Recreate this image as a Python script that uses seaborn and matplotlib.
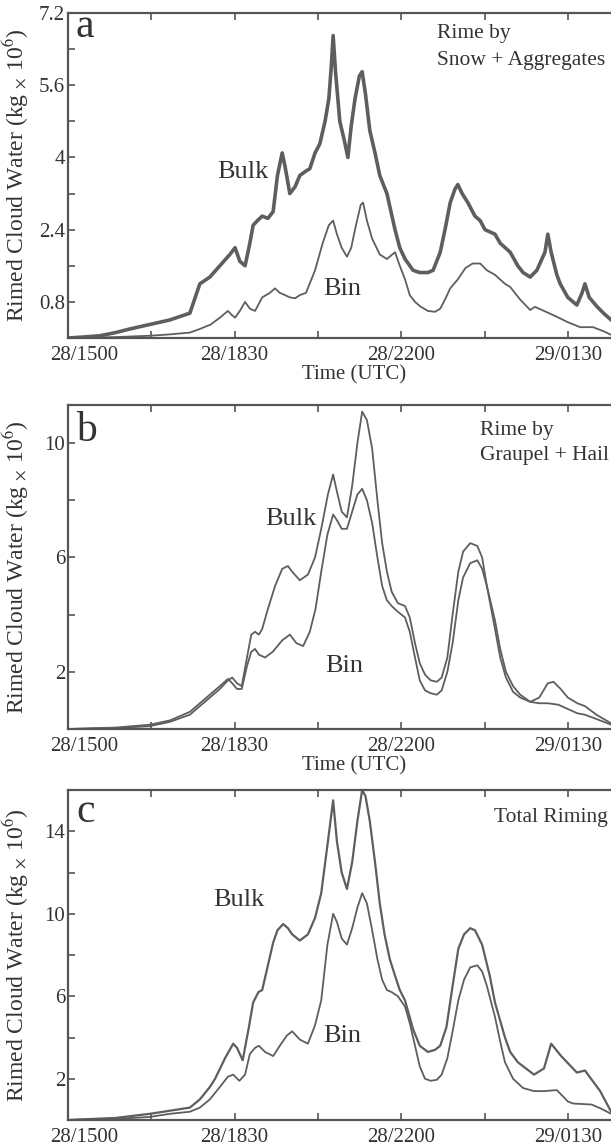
import matplotlib
matplotlib.use("Agg")
import matplotlib.pyplot as plt
import matplotlib.transforms as mtransforms
from matplotlib.ticker import FixedLocator, NullFormatter
import seaborn as sns
import pandas as pd

# ---------------- data (x = hours after 28/1500 UTC) ----------------
a_bulk_t = [0, 0.3, 0.67, 1.0, 1.3, 1.72, 2.14, 2.56, 2.77, 2.98, 3.19, 3.40, 3.51, 3.61, 3.72, 3.82, 3.89, 3.98,
            4.08, 4.20, 4.31, 4.40, 4.50, 4.56, 4.66, 4.77, 4.87, 5.0, 5.08, 5.19, 5.29, 5.40, 5.48, 5.53, 5.57,
            5.62, 5.71, 5.80, 5.88, 5.95, 6.03, 6.12, 6.18, 6.25, 6.34, 6.45, 6.55, 6.70, 6.87, 6.97, 7.08, 7.25,
            7.39, 7.56, 7.67, 7.82, 7.92, 8.03, 8.13, 8.19, 8.28, 8.40, 8.55, 8.66, 8.76, 8.97, 9.08, 9.29, 9.45,
            9.56, 9.71, 9.85, 10.02, 10.08, 10.15, 10.27, 10.34, 10.50, 10.69, 10.80, 10.86, 10.95, 11.11, 11.25,
            11.41, 11.5]
a_bulk_v = [0.0, 0.02, 0.05, 0.12, 0.2, 0.3, 0.4, 0.55, 1.2, 1.35, 1.6, 1.85, 2.0, 1.7, 1.6, 2.1, 2.5, 2.6,
            2.7, 2.65, 2.8, 3.6, 4.1, 3.8, 3.2, 3.35, 3.6, 3.7, 3.75, 4.1, 4.3, 4.8, 5.3, 6.0, 6.7,
            5.9, 4.8, 4.4, 4.0, 4.7, 5.3, 5.8, 5.9, 5.4, 4.6, 4.1, 3.6, 3.2, 2.4, 2.0, 1.75, 1.5,
            1.45, 1.45, 1.5, 1.9, 2.4, 3.0, 3.3, 3.4, 3.2, 3.0, 2.7, 2.6, 2.4, 2.3, 2.1, 1.9, 1.6,
            1.45, 1.35, 1.5, 1.9, 2.3, 1.9, 1.4, 1.2, 0.9, 0.73, 1.0, 1.2, 0.9, 0.7, 0.55,
            0.4, 0.35]

a_bin_t = [0, 1.0, 1.72, 2.14, 2.56, 2.77, 3.0, 3.19, 3.36, 3.45, 3.51, 3.61, 3.72, 3.82, 3.93, 4.08, 4.24, 4.35,
           4.45, 4.56, 4.66, 4.77, 4.87, 5.0, 5.19, 5.35, 5.48, 5.57, 5.65, 5.75, 5.86, 5.95, 6.05, 6.15, 6.20,
           6.28, 6.39, 6.55, 6.70, 6.87, 6.97, 7.08, 7.18, 7.29, 7.40, 7.56, 7.71, 7.82, 7.92, 8.03, 8.19, 8.35,
           8.50, 8.66, 8.80, 8.97, 9.18, 9.29, 9.50, 9.71, 9.81, 10.0, 10.27, 10.50, 10.76, 11.03, 11.25, 11.41, 11.5]
a_bin_v = [0, 0.02, 0.05, 0.08, 0.12, 0.2, 0.3, 0.45, 0.6, 0.5, 0.45, 0.6, 0.8, 0.65, 0.6, 0.9, 1.0, 1.1,
           1.0, 0.95, 0.9, 0.88, 0.95, 1.0, 1.5, 2.1, 2.5, 2.6, 2.3, 2.0, 1.8, 2.0, 2.5, 2.95, 3.0,
           2.6, 2.2, 1.85, 1.75, 1.9, 1.6, 1.3, 0.95, 0.8, 0.7, 0.6, 0.58, 0.65, 0.85, 1.1, 1.3, 1.55,
           1.65, 1.65, 1.5, 1.4, 1.2, 1.13, 0.85, 0.62, 0.69, 0.6, 0.47, 0.35, 0.24, 0.24, 0.15, 0.07, 0.05]

b_bulk_t = [0, 1.0, 1.72, 2.14, 2.56, 2.77, 2.98, 3.19, 3.36, 3.45, 3.55, 3.65, 3.76, 3.85, 3.93, 4.01, 4.08,
            4.20, 4.35, 4.50, 4.62, 4.71, 4.87, 5.04, 5.19, 5.32, 5.46, 5.57, 5.65, 5.75, 5.86, 5.97, 6.08, 6.18,
            6.28, 6.39, 6.50, 6.60, 6.70, 6.80, 6.93, 7.08, 7.18, 7.29, 7.39, 7.50, 7.62, 7.75, 7.85, 7.97, 8.08,
            8.20, 8.30, 8.45, 8.60, 8.70, 8.80, 8.97, 9.08, 9.20, 9.35, 9.50, 9.71, 9.90, 10.08, 10.20, 10.35,
            10.50, 10.70, 10.86, 11.10, 11.41, 11.5]
b_bulk_v = [0, 0.03, 0.1, 0.25, 0.5, 0.8, 1.1, 1.4, 1.7, 1.8, 1.6, 1.5, 2.5, 3.3, 3.4, 3.3, 3.5,
            4.2, 5.0, 5.6, 5.7, 5.5, 5.2, 5.4, 6.0, 7.0, 8.2, 8.9, 8.3, 7.6, 7.4, 8.5, 10.0, 11.1,
            10.8, 9.8, 8.0, 6.5, 5.5, 4.8, 4.4, 4.3, 3.9, 3.0, 2.3, 1.9, 1.7, 1.65, 1.8, 2.5, 4.0,
            5.5, 6.2, 6.5, 6.4, 6.0, 5.0, 3.5, 2.5, 1.8, 1.3, 1.1, 0.95, 1.1, 1.6, 1.65, 1.4,
            1.1, 0.9, 0.8, 0.5, 0.2, 0.15]

b_bin_t = [0, 1.0, 1.72, 2.14, 2.56, 2.77, 2.98, 3.19, 3.36, 3.45, 3.55, 3.65, 3.76, 3.85, 3.93, 4.01, 4.14,
           4.30, 4.50, 4.66, 4.80, 4.94, 5.08, 5.20, 5.32, 5.45, 5.57, 5.65, 5.75, 5.86, 5.97, 6.08, 6.18,
           6.28, 6.39, 6.50, 6.60, 6.70, 6.80, 6.93, 7.08, 7.18, 7.29, 7.39, 7.50, 7.62, 7.75, 7.85, 7.97, 8.08,
           8.20, 8.30, 8.45, 8.60, 8.70, 8.80, 8.97, 9.08, 9.20, 9.35, 9.50, 9.71, 9.90, 10.08, 10.30, 10.50,
           10.70, 10.86, 11.10, 11.41, 11.5]
b_bin_v = [0, 0.05, 0.15, 0.3, 0.6, 0.9, 1.2, 1.5, 1.75, 1.6, 1.4, 1.4, 2.2, 2.7, 2.8, 2.6, 2.5,
           2.7, 3.1, 3.3, 3.0, 2.9, 3.4, 4.2, 5.5, 6.8, 7.5, 7.3, 7.0, 7.0, 7.6, 8.2, 8.4,
           8.0, 7.2, 6.0, 5.0, 4.5, 4.3, 4.1, 3.9, 3.4, 2.5, 1.7, 1.35, 1.25, 1.2, 1.35, 2.0, 3.0,
           4.5, 5.3, 5.8, 5.9, 5.6, 5.0, 3.8, 2.8, 2.0, 1.5, 1.2, 0.95, 0.9, 0.9, 0.85, 0.7,
           0.55, 0.5, 0.35, 0.15, 0.1]

c_bulk_t = [0, 1.0, 1.72, 2.14, 2.56, 2.77, 2.98, 3.09, 3.30, 3.47, 3.55, 3.67, 3.80, 3.89, 4.0, 4.08, 4.20,
            4.31, 4.40, 4.52, 4.62, 4.71, 4.87, 5.04, 5.19, 5.32, 5.46, 5.57, 5.65, 5.75, 5.86, 5.97, 6.08,
            6.18, 6.25, 6.34, 6.45, 6.55, 6.65, 6.76, 6.87, 6.97, 7.08, 7.25, 7.39, 7.56, 7.71, 7.82, 7.95,
            8.08, 8.20, 8.32, 8.45, 8.55, 8.70, 8.86, 8.97, 9.18, 9.29, 9.45, 9.79, 10.0, 10.15, 10.36, 10.69,
            10.86, 11.18, 11.41, 11.5]
c_bulk_v = [0, 0.1, 0.3, 0.45, 0.6, 1.0, 1.6, 2.0, 3.0, 3.7, 3.5, 2.9, 4.5, 5.7, 6.2, 6.3, 7.5,
            8.6, 9.2, 9.5, 9.3, 9.0, 8.7, 9.0, 9.8, 11.0, 13.5, 15.5, 13.5, 12.0, 11.2, 12.5, 14.5,
            16.0, 15.7, 14.5, 12.5, 10.5, 9.0, 7.8, 7.0, 6.3, 5.8, 4.4, 3.6, 3.3, 3.4, 3.6, 4.5,
            6.5, 8.3, 9.0, 9.3, 9.2, 8.5, 7.0, 5.7, 4.0, 3.3, 2.8, 2.2, 2.5, 3.7, 3.1, 2.3,
            2.4, 1.4, 0.4, 0.3]

c_bin_t = [0, 1.0, 1.72, 2.14, 2.56, 2.77, 2.98, 3.19, 3.36, 3.47, 3.60, 3.72, 3.82, 3.93, 4.01, 4.14, 4.31,
           4.45, 4.60, 4.71, 4.87, 5.04, 5.19, 5.32, 5.45, 5.57, 5.65, 5.75, 5.86, 5.97, 6.08, 6.18, 6.28,
           6.39, 6.50, 6.60, 6.70, 6.80, 6.93, 7.08, 7.18, 7.29, 7.39, 7.50, 7.62, 7.75, 7.85, 7.97, 8.08,
           8.20, 8.32, 8.45, 8.60, 8.70, 8.80, 8.97, 9.08, 9.18, 9.35, 9.56, 9.79, 10.0, 10.27, 10.50, 10.61,
           11.0, 11.2, 11.41, 11.5]
c_bin_v = [0, 0.05, 0.15, 0.3, 0.4, 0.6, 1.0, 1.6, 2.1, 2.2, 1.9, 2.2, 3.2, 3.5, 3.6, 3.3, 3.1,
           3.6, 4.1, 4.3, 3.9, 3.7, 4.6, 5.8, 8.5, 10.0, 9.6, 8.8, 8.5, 9.3, 10.3, 11.0, 10.5,
           9.2, 7.8, 6.8, 6.3, 6.2, 6.0, 5.5, 4.7, 3.6, 2.6, 2.0, 1.9, 1.95, 2.2, 3.0, 4.3,
           5.8, 6.8, 7.4, 7.5, 7.2, 6.5, 5.0, 3.8, 2.8, 2.0, 1.55, 1.4, 1.4, 1.45, 0.9, 0.8,
           0.75, 0.55, 0.3, 0.25]

x_major = [0, 3.5, 7.0, 10.5]
x_minor = [1.75, 5.25, 8.75]
x_labels = ["28/1500", "28/1830", "28/2200", "29/0130"]

panels = [
    dict(letter="a", bulk=(a_bulk_t, a_bulk_v), bin=(a_bin_t, a_bin_v), ylim=(0, 7.2),
         ymaj=[0.8, 2.4, 4.0, 5.6, 7.2], ylab=["0.8", "2.4", "4", "5.6", "7.2"], ymin=[1.6, 3.2, 4.8, 6.4],
         note=["Rime by", "Snow + Aggregates"], note_xy=(0.646, [0.923, 0.840]),
         bulk_xy=(3.13, 3.55), bin_xy=(5.36, 0.95), letter_y=0.926,
         rect=[68, 13, 338], xlabel=True),
    dict(letter="b", bulk=(b_bulk_t, b_bulk_v), bin=(b_bin_t, b_bin_v), ylim=(0, 11.33),
         ymaj=[2, 6, 10], ylab=["2", "6", "10"], ymin=[4, 8],
         note=["Rime by", "Graupel + Hail"], note_xy=(0.7215, [0.907, 0.830]),
         bulk_xy=(4.14, 7.13), bin_xy=(5.40, 2.0), letter_y=0.889,
         rect=[68, 405, 729], xlabel=True),
    dict(letter="c", bulk=(c_bulk_t, c_bulk_v), bin=(c_bin_t, c_bin_v), ylim=(0, 16),
         ymaj=[2, 6, 10, 14], ylab=["2", "6", "10", "14"], ymin=[4, 8, 12],
         note=["Total Riming"], note_xy=(0.746, [0.903]),
         bulk_xy=(3.05, 10.4), bin_xy=(5.36, 3.8), letter_y=0.903,
         rect=[68, 790, 1120], xlabel=False),
]

# ---------------- style ----------------
sns.set_style("ticks")
plt.rcParams["font.family"] = ["Liberation Serif", "DejaVu Serif"]
plt.rcParams["mathtext.fontset"] = "stix"

W, H = 611, 1145
fig = plt.figure(figsize=(W / 100, H / 100), dpi=100)
line_col = "#5e5e5e"
spine_col = "#555555"
text_col = "#333333"
XMAX = 12.0
px_per_h = 47.6

for p in panels:
    left, top, bottom = p["rect"]
    width_px = XMAX * px_per_h
    ax = fig.add_axes([left / W, (H - bottom) / H, width_px / W, (bottom - top) / H])
    df_bulk = pd.DataFrame({"t": p["bulk"][0], "v": p["bulk"][1]})
    df_bin = pd.DataFrame({"t": p["bin"][0], "v": p["bin"][1]})
    lw_bulk = 2.6 if p["letter"] == "a" else (1.6 if p["letter"] == "c" else 1.3)
    sns.lineplot(data=df_bulk, x="t", y="v", ax=ax, color=line_col, lw=lw_bulk, estimator=None, sort=False)
    sns.lineplot(data=df_bin, x="t", y="v", ax=ax, color=line_col, lw=1.3, estimator=None, sort=False)

    ax.set_xlim(0, XMAX)
    ax.set_ylim(*p["ylim"])
    ax.xaxis.set_major_locator(FixedLocator(x_major))
    ax.xaxis.set_minor_locator(FixedLocator(x_minor))
    ax.set_xticklabels(x_labels)
    ax.yaxis.set_major_locator(FixedLocator(p["ymaj"]))
    ax.yaxis.set_minor_locator(FixedLocator(p["ymin"]))
    ax.set_yticklabels(p["ylab"])
    ax.yaxis.set_minor_formatter(NullFormatter())
    ax.tick_params(axis="both", which="both", direction="in", length=5, width=1.2, color=spine_col,
                   labelsize=15, labelcolor=text_col, top=True, right=False)
    ax.tick_params(axis="x", which="both", pad=6)
    ax.tick_params(axis="y", which="both", pad=2)
    for s in ["left", "bottom", "top"]:
        ax.spines[s].set_color(spine_col)
        ax.spines[s].set_linewidth(1.6)
    ax.spines["right"].set_visible(False)

    ax.set_ylabel("Rimed Cloud Water (kg $_{\\times}$ 10$^{6}$)", fontsize=17, color=text_col)
    ax.yaxis.set_label_coords((31 - left) / width_px, 0.5)
    if p["xlabel"]:
        ax.set_xlabel("Time (UTC)", fontsize=15, color=text_col, labelpad=0)
    else:
        ax.set_xlabel("")

    ax.text(0.014, p["letter_y"], p["letter"], transform=ax.transAxes, fontsize=30,
            color=text_col, ha="left", va="baseline")
    nx, nys = p["note_xy"]
    for line, ny in zip(p["note"], nys):
        ax.text(nx, ny, line, transform=ax.transAxes, fontsize=15.5, color=text_col,
                ha="left", va="baseline")
    ax.text(p["bulk_xy"][0], p["bulk_xy"][1], "Bulk", fontsize=19, color=text_col, ha="left", va="baseline")
    ax.text(p["bin_xy"][0], p["bin_xy"][1], "Bin", fontsize=19, color=text_col, ha="left", va="baseline")

    # first date label sits slightly right of its tick in the reference
    off = mtransforms.ScaledTranslation(16 / 100, 0, fig.dpi_scale_trans)
    lbl = ax.get_xticklabels()[0]
    lbl.set_transform(lbl.get_transform() + off)

fig.savefig("out.png", dpi=100, facecolor="white")
